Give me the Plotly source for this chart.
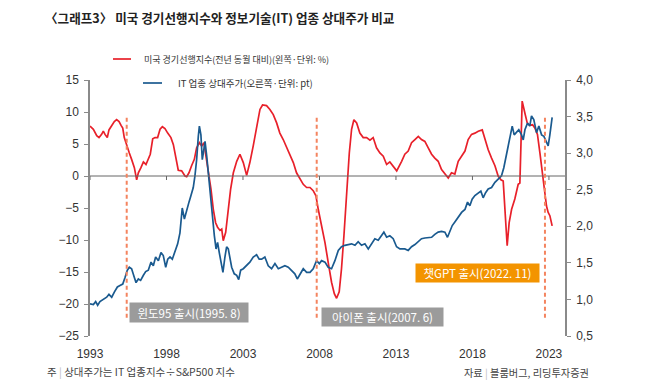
import plotly.graph_objects as go

# ---- data ----
lei_years = [1993.00,1993.22,1993.44,1993.59,1993.76,1993.87,1993.98,1994.13,1994.24,1994.42,1994.59,1994.74,1994.90,
             1995.03,1995.14,1995.24,1995.40,1995.57,1995.72,1995.90,1996.05,1996.16,1996.33,1996.49,1996.66,1996.81,1996.94,
             1997.10,1997.25,1997.42,1997.58,1997.73,1997.90,1998.08,1998.29,1998.45,1998.60,1998.77,1998.99,1999.21,1999.32,
             1999.47,1999.64,1999.82,1999.97,2000.15,2000.30,2000.45,2000.58,2000.73,2000.91,2001.06,2001.21,2001.34,2001.50,
             2001.61,2001.71,2001.87,2002.04,2002.19,2002.37,2002.59,2002.80,2003.02,2003.24,2003.45,2003.67,2003.89,2004.11,
             2004.28,2004.54,2004.76,2004.98,2005.20,2005.41,2005.63,2005.85,2006.07,2006.29,2006.50,2006.72,2006.94,2007.16,
             2007.38,2007.59,2007.77,2007.92,2008.14,2008.36,2008.57,2008.79,2008.97,2009.12,2009.29,2009.44,2009.60,2009.77,
             2009.95,2010.10,2010.25,2010.43,2010.64,2010.86,2011.08,2011.30,2011.51,2011.73,2011.95,2012.17,2012.39,2012.60,
             2012.82,2013.05,2013.37,2013.58,2013.80,2014.02,2014.24,2014.46,2014.67,2014.89,2015.11,2015.33,2015.54,2015.76,
             2015.98,2016.20,2016.42,2016.63,2016.85,2017.07,2017.29,2017.51,2017.72,2017.94,2018.16,2018.38,2018.64,2018.81,
             2019.03,2019.25,2019.47,2019.68,2019.86,2020.01,2020.12,2020.27,2020.40,2020.56,2020.77,2020.99,2021.10,2021.16,
             2021.25,2021.43,2021.58,2021.75,2021.93,2022.08,2022.25,2022.41,2022.56,2022.69,2022.84,2022.95,2023.06,2023.21]
lei_values = [7.8,7.3,6.3,6.0,6.5,7.0,6.5,6.0,7.2,7.8,8.5,8.8,8.5,
              7.9,7.5,6.0,4.7,3.6,2.6,1.3,-0.6,0.5,1.3,2.2,1.8,2.7,3.4,
              5.8,6.0,6.0,7.3,7.7,7.4,6.7,6.0,4.9,3.1,0.9,0.8,0.0,-0.1,
              0.5,1.6,2.6,4.4,5.2,4.7,5.2,3.1,1.0,-2.1,-5.2,-7.3,-8.0,-8.5,
              -8.3,-10.1,-8.8,-5.2,-2.1,0.5,2.3,3.4,2.1,0.1,2.1,4.7,7.8,10.4,
              11.1,11.0,10.4,9.6,8.3,6.7,5.7,4.4,3.4,2.1,0.5,-0.5,-1.3,-1.8,
              -1.8,-2.3,-3.1,-5.2,-7.8,-10.4,-13.5,-16.6,-18.4,-19.1,-18.1,-14.5,-9.3,-2.6,
              3.6,7.3,8.8,8.3,6.7,6.0,6.0,5.6,6.0,4.4,3.6,3.1,1.8,2.2,
              1.5,0.8,2.3,3.4,3.9,5.2,5.7,6.2,5.7,5.4,4.4,3.4,2.8,2.3,
              1.0,0.3,-0.3,0.5,0.3,2.3,3.1,3.9,5.7,6.5,6.7,7.0,7.2,5.7,
              4.1,2.8,1.6,0.0,-0.6,-0.8,-5.2,-10.9,-7.3,-5.2,-3.6,-1.3,-1.1,5.2,
              11.7,9.8,8.3,7.9,8.0,7.5,6.5,3.6,0.5,-1.6,-4.7,-5.7,-6.2,-7.8]

it_years = [1993.00,1993.22,1993.37,1993.50,1993.65,1993.87,1994.09,1994.24,1994.42,1994.59,1994.79,1994.96,1995.14,
            1995.29,1995.44,1995.57,1995.72,1995.90,1996.01,1996.16,1996.31,1996.49,1996.64,1996.81,1996.99,1997.14,1997.29,
            1997.47,1997.64,1997.79,1997.95,1998.08,1998.23,1998.38,1998.56,1998.73,1998.88,1999.03,1999.17,1999.32,1999.47,
            1999.60,1999.75,1999.86,1999.97,2000.08,2000.15,2000.25,2000.34,2000.43,2000.52,2000.63,2000.73,2000.86,2000.99,
            2001.13,2001.24,2001.34,2001.45,2001.56,2001.69,2001.82,2001.93,2002.04,2002.15,2002.26,2002.43,2002.59,2002.72,
            2002.85,2003.02,2003.24,2003.45,2003.67,2003.89,2004.06,2004.22,2004.43,2004.65,2004.87,2005.09,2005.31,2005.52,
            2005.74,2005.96,2006.18,2006.39,2006.55,2006.72,2006.94,2007.16,2007.38,2007.59,2007.81,2007.99,2008.14,2008.36,
            2008.57,2008.79,2009.01,2009.23,2009.44,2009.66,2009.88,2010.10,2010.32,2010.53,2010.75,2010.97,2011.19,2011.41,
            2011.62,2011.84,2012.06,2012.21,2012.39,2012.60,2012.82,2013.04,2013.26,2013.58,2013.80,2014.02,2014.24,2014.46,
            2014.67,2014.89,2015.11,2015.33,2015.54,2015.76,2015.98,2016.20,2016.37,2016.52,2016.68,2016.85,2017.07,2017.29,
            2017.51,2017.68,2017.83,2017.98,2018.16,2018.38,2018.55,2018.70,2018.86,2019.03,2019.25,2019.47,2019.68,2019.90,
            2020.05,2020.18,2020.34,2020.45,2020.60,2020.73,2020.88,2021.03,2021.21,2021.32,2021.43,2021.60,2021.75,2021.86,
            2022.01,2022.19,2022.34,2022.52,2022.67,2022.84,2022.95,2023.06,2023.21]
it_values = [0.94,0.93,0.97,0.92,0.97,1.00,1.03,1.07,1.03,1.10,1.17,1.19,1.21,
             1.30,1.40,1.44,1.42,1.30,1.23,1.28,1.26,1.33,1.38,1.40,1.51,1.46,1.58,
             1.53,1.64,1.60,1.44,1.55,1.58,1.55,1.67,1.76,1.91,2.25,2.10,2.23,2.33,
             2.42,2.53,2.69,2.91,3.23,3.37,3.25,2.91,3.03,3.16,2.96,2.73,2.51,2.14,
             1.87,1.69,1.78,1.64,1.53,1.37,1.58,1.72,1.69,1.55,1.44,1.35,1.33,1.27,
             1.40,1.42,1.46,1.51,1.58,1.61,1.55,1.55,1.58,1.46,1.42,1.49,1.42,1.44,
             1.46,1.44,1.40,1.35,1.28,1.35,1.42,1.37,1.37,1.42,1.53,1.49,1.53,1.51,
             1.44,1.42,1.53,1.67,1.72,1.74,1.75,1.76,1.74,1.79,1.74,1.76,1.69,1.76,
             1.83,1.81,1.87,1.92,1.85,1.87,1.83,1.72,1.69,1.69,1.67,1.72,1.75,1.79,
             1.83,1.84,1.84,1.85,1.89,1.92,1.93,1.92,1.85,1.94,2.01,2.06,2.12,2.19,
             2.23,2.33,2.28,2.37,2.42,2.46,2.48,2.39,2.46,2.51,2.53,2.60,2.64,2.69,
             2.80,2.94,3.07,3.21,3.37,3.25,3.29,3.32,3.25,3.18,3.32,3.41,3.37,3.51,
             3.46,3.28,3.37,3.25,3.23,3.16,3.10,3.25,3.49]

year_ticks = [1993, 1998, 2003, 2008, 2013, 2018, 2023]
left_ticks = [15, 10, 5, 0, -5, -10, -15, -20, -25]
right_ticks = [4.0, 3.5, 3.0, 2.5, 2.0, 1.5, 1.0, 0.5]
right_labels = ["4,0", "3,5", "3,0", "2,5", "2,0", "1,5", "1,0", "0,5"]
events = [1995.40, 2007.82, 2022.74]
event_labels = ["윈도95 출시(1995. 8)", "아이폰 출시(2007. 6)", "챗GPT 출시(2022. 11)"]

RED = "#e8202a"
BLUE = "#1a5a8f"
DASH = "#f4845f"
AXIS = "#8a8a8a"
KFONT = "Noto Sans CJK KR"
NFONT = "Liberation Sans"

# page offset (browser body margin)
OFF = 8
W, H = 650 - OFF, 384 - OFF
# plot box in screen pixels: x 90..565, y 80..336
L = 90 - OFF
T = 80 - OFF
R = W - (565 - OFF)
B = H - (336 - OFF)
PW, PH = W - L - R, H - T - B

def px(x):
    return (x - OFF - L) / PW

def py(y):
    return (H - B - (y - OFF)) / PH

fig = go.Figure()
fig.add_trace(go.Scatter(x=it_years, y=it_values, mode="lines", yaxis="y2",
                         line=dict(color=BLUE, width=1.7), showlegend=False, hoverinfo="skip"))
fig.add_trace(go.Scatter(x=lei_years, y=lei_values, mode="lines", yaxis="y",
                         line=dict(color=RED, width=1.7), showlegend=False, hoverinfo="skip"))

shapes = []
shapes.append(dict(type="line", xref="paper", yref="y", x0=0, x1=1, y0=0, y1=0,
                   line=dict(color="#666666", width=1)))
for yr in year_ticks:
    shapes.append(dict(type="line", xref="x", yref="y", ysizemode="pixel", yanchor=0,
                       x0=yr, x1=yr, y0=0, y1=-4, line=dict(color="#666666", width=1)))
for ev in events:
    shapes.append(dict(type="line", xref="x", yref="y", x0=ev, x1=ev, y0=9.1, y1=-22.2,
                       line=dict(color=DASH, width=2, dash="4px,3px")))
shapes.append(dict(type="line", xref="paper", yref="paper", x0=px(113), x1=px(131),
                   y0=py(59), y1=py(59), line=dict(color=RED, width=1.7)))
shapes.append(dict(type="line", xref="paper", yref="paper", x0=px(143), x1=px(162),
                   y0=py(83), y1=py(83), line=dict(color=BLUE, width=1.7)))

annotations = []
annotations.append(dict(text="<b>〈그래프3〉 미국 경기선행지수와 정보기술(IT) 업종 상대주가 비교</b>",
                        xref="paper", yref="paper", x=px(43), y=py(17), xanchor="left", yanchor="middle",
                        showarrow=False, font=dict(family=KFONT, size=12.6, color="#222222")))
annotations.append(dict(text="미국 경기선행지수(전년 동월 대비)(왼쪽·단위: %)",
                        xref="paper", yref="paper", x=px(142), y=py(59), xanchor="left", yanchor="middle",
                        showarrow=False, font=dict(family=KFONT, size=9, color="#333333")))
annotations.append(dict(text="IT 업종 상대주가(오른쪽·단위: pt)",
                        xref="paper", yref="paper", x=px(176), y=py(83), xanchor="left", yanchor="middle",
                        showarrow=False, font=dict(family=KFONT, size=9.5, color="#333333")))
annotations.append(dict(text="주 <span style='color:#bbbbbb'>|</span> 상대주가는 IT 업종지수÷S&P500 지수",
                        xref="paper", yref="paper", x=px(45), y=py(371), xanchor="left", yanchor="middle",
                        showarrow=False, font=dict(family=KFONT, size=10.5, color="#444444")))
annotations.append(dict(text="자료 <span style='color:#bbbbbb'>|</span> 블룸버그, 리딩투자증권",
                        xref="paper", yref="paper", x=px(591), y=py(372), xanchor="right", yanchor="middle",
                        showarrow=False, font=dict(family=KFONT, size=10.2, color="#444444")))

boxes = [((130, 248), (303, 322), "#9b9b9b"),
         ((322, 443), (308, 326), "#9b9b9b"),
         ((416, 539), (264, 282), "#f39400")]
for (bx, by, col), lab in zip(boxes, event_labels):
    annotations.append(dict(text=lab, xref="paper", yref="paper",
                            x=px((bx[0] + bx[1]) / 2), y=py((by[0] + by[1]) / 2),
                            xanchor="center", yanchor="middle", showarrow=False,
                            width=bx[1] - bx[0], height=by[1] - by[0], borderpad=0,
                            bgcolor=col, font=dict(family=KFONT, size=11.5, color="white")))

fig.update_layout(
    width=W, height=H,
    margin=dict(l=L, r=R, t=T, b=B),
    paper_bgcolor="white", plot_bgcolor="white",
    showlegend=False,
    shapes=shapes, annotations=annotations,
    xaxis=dict(range=[1993, 2024.05], tickvals=year_ticks, ticktext=[str(y) for y in year_ticks],
               showgrid=False, zeroline=False, showline=False, ticks="", ticklabelstandoff=9,
               tickfont=dict(family=NFONT, size=12, color="#333333"), fixedrange=True),
    yaxis=dict(range=[-25, 15], tickvals=left_ticks, showgrid=False, zeroline=False,
               showline=True, linecolor=AXIS, linewidth=1.5, ticks="outside", ticklen=4,
               tickcolor=AXIS, tickwidth=1.2, ticklabelstandoff=3,
               tickfont=dict(family=NFONT, size=12, color="#333333"), fixedrange=True),
    yaxis2=dict(range=[0.5, 4.0], tickvals=right_ticks, ticktext=right_labels, overlaying="y",
                side="right", showgrid=False, zeroline=False, showline=True, linecolor=AXIS,
                linewidth=1.5, ticks="outside", ticklen=4, tickcolor=AXIS, tickwidth=1.2,
                ticklabelstandoff=3,
                tickfont=dict(family=NFONT, size=12, color="#333333"), fixedrange=True),
)

fig.write_html("out.html")
